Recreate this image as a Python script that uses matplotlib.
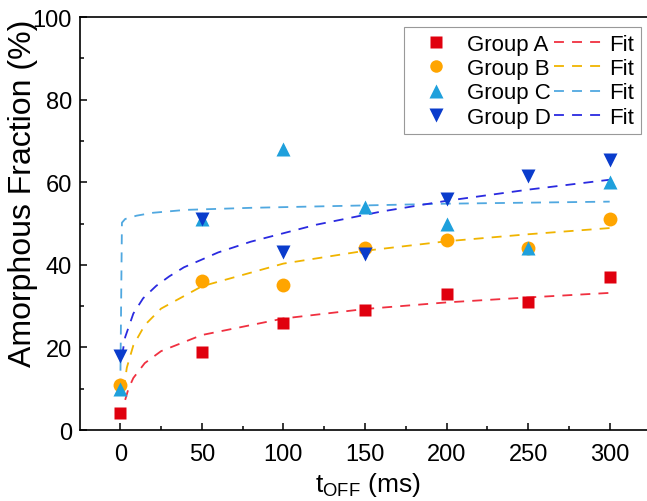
import matplotlib
matplotlib.use('Agg')
import matplotlib.pyplot as plt
from matplotlib.lines import Line2D

plt.rcParams['font.family'] = ['Liberation Sans', 'DejaVu Sans']
plt.rcParams['mathtext.fontset'] = 'custom'
plt.rcParams['mathtext.rm'] = 'Liberation Sans'

# measured points
t_off = [0, 50, 100, 150, 200, 250, 300]
group_a = [4, 19, 26, 29, 33, 31, 37]
group_b = [11, 36, 35, 44, 46, 44, 51]
group_c = [10, 51, 68, 54, 50, 44, 60]
group_d = [18, 51, 43, 42.5, 56, 61.5, 65.5]

# fit curves
fit_a_x = [3, 5, 8, 15, 25, 50, 100, 150, 200, 250, 300]
fit_a_y = [7.3, 10.0, 12.6, 16.2, 19.1, 23.0, 27.0, 29.3, 30.9, 32.1, 33.2]
fit_b_x = [2, 4, 8, 15, 25, 50, 100, 150, 200, 250, 300]
fit_b_y = [9.7, 15.1, 20.5, 25.4, 29.4, 34.8, 40.3, 43.4, 45.7, 47.4, 48.9]
fit_c_x = [0, 1, 3, 10, 20, 40, 80, 140, 200, 240, 300]
fit_c_y = [10, 50.2, 51.1, 51.9, 52.6, 53.3, 53.8, 54.3, 54.8, 55.0, 55.3]
fit_d_x = [1, 3, 8, 14, 22, 30, 39, 49, 60, 80, 120, 160, 200, 250, 300]
fit_d_y = [17.9, 22.5, 28.2, 31.9, 34.9, 37.2, 39.4, 41.1, 43.0, 45.6, 49.7, 52.9, 55.5, 58.2, 60.6]

labels = ['Group A', 'Group B', 'Group C', 'Group D']
marker_colors = ['#e0000e', '#ffa500', '#1fa0dc', '#0a3ccc']
fit_colors = ['#f03040', '#f0b400', '#50a8e0', '#2a2ae0']
markers = ['s', 'o', '^', 'v']
msizes = [9, 10, 10.5, 10.5]
dash = (0, (5.5, 4.5))

fig = plt.figure(figsize=(6.47, 5.02), dpi=100)
ax = fig.add_axes([0.1229, 0.1414, 0.89, 0.8227])

fits = [(fit_a_x, fit_a_y), (fit_b_x, fit_b_y), (fit_c_x, fit_c_y), (fit_d_x, fit_d_y)]
for (fx, fy), c in zip(fits, fit_colors):
    ax.plot(fx, fy, ls=dash, lw=1.3, color=c, zorder=2)

for ys, m, c, ms in zip([group_a, group_b, group_c, group_d], markers, marker_colors, msizes):
    ax.plot(t_off, ys, ls='none', marker=m, ms=ms, color=c, mec='none', zorder=3)

ax.set_xlim(-25, 328)
ax.set_ylim(0, 100)
ax.set_xticks([0, 50, 100, 150, 200, 250, 300])
ax.set_xticks([25, 75, 125, 175, 225, 275, 325], minor=True)
ax.set_yticks([0, 20, 40, 60, 80, 100])
ax.set_yticks([10, 30, 50, 70, 90], minor=True)
ax.tick_params(which='both', direction='in', labelsize=17, width=1.1)
ax.tick_params(which='major', length=5)
ax.tick_params(which='minor', length=3)
ax.tick_params(axis='x', pad=9)
ax.tick_params(axis='y', pad=5.5)
for s in ax.spines.values():
    s.set_linewidth(1.2)

ax.set_xlabel(r'$\mathregular{t_{OFF}}$ (ms)', fontsize=19, labelpad=4)
ax.set_ylabel('Amorphous Fraction (%)', fontsize=23)
ax.yaxis.set_label_coords(-0.072, 0.575)

handles = []
for m, c, ms in zip(markers, marker_colors, msizes):
    handles.append(Line2D([], [], ls='none', marker=m, ms=ms - 1, color=c, mec='none'))
for c in fit_colors:
    handles.append(Line2D([], [], ls=dash, lw=1.3, color=c))
leg = ax.legend(handles, labels + ['Fit'] * 4, ncol=2, loc='upper right',
                bbox_to_anchor=(0.9907, 0.944), bbox_transform=fig.transFigure,
                fontsize=16, handlelength=2.2, handletextpad=0.3, columnspacing=0.15,
                labelspacing=0.15, borderpad=0.3, borderaxespad=0, fancybox=False,
                edgecolor='#999999', framealpha=1)
leg.get_frame().set_linewidth(0.8)

fig.savefig('out.png', dpi=100)
